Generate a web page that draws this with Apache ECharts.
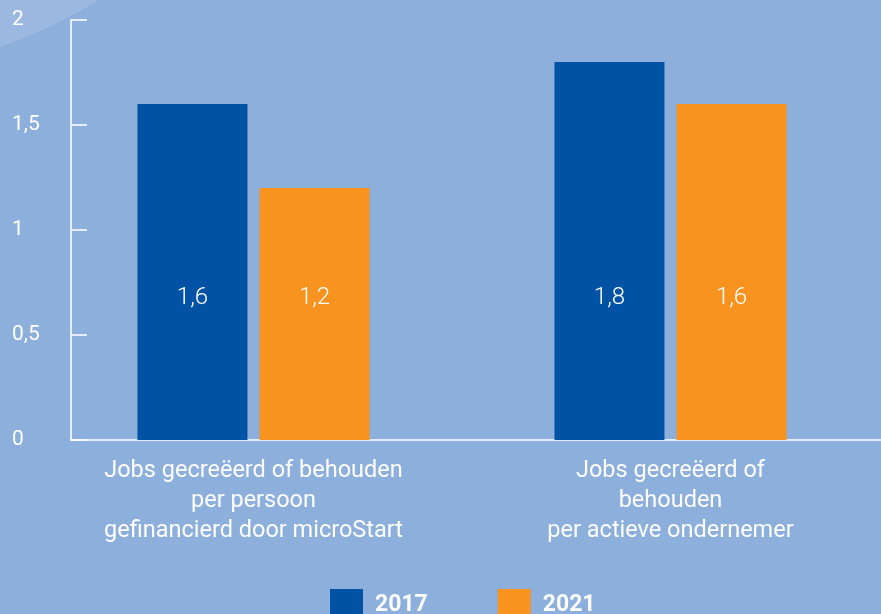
<!DOCTYPE html>
<html><head><meta charset="utf-8">
<script src="https://cdn.jsdelivr.net/npm/echarts@6/dist/echarts.min.js"></script>
<style>html,body{margin:0;padding:0;background:#8DAFDC;}#c{width:881px;height:614px;}</style>
</head><body><div id="c"></div>
<script>
const categories = ['Jobs gecreëerd of behouden\nper persoon\ngefinancierd door microStart', 'Jobs gecreëerd of\nbehouden\nper actieve ondernemer'];
const series2017 = [1.6, 1.8];
const series2021 = [1.2, 1.6];
const seriesNames = ['2017', '2021'];
const yTicks = [0, 0.5, 1, 1.5, 2];

const fmt = v => String(v).replace('.', ',');
const chart = echarts.init(document.getElementById('c'));
const font = 'Roboto, "Open Sans", sans-serif';
chart.setOption({
  backgroundColor: '#8DAFDC',
  animation: false,
  graphic: [{
    type: 'circle', shape: { cx: -150, cy: -393, r: 465 },
    style: { fill: 'rgba(255,255,255,0.12)' }, z: -1, silent: true
  }],
  legend: {
    data: seriesNames, left: 325, top: 584, itemWidth: 33, itemHeight: 33, itemGap: 70,
    icon: 'rect',
    textStyle: { color: '#fff', fontSize: 23, fontWeight: 'bold', fontFamily: font, padding: [0, 0, 0, 7] }
  },
  grid: [
    { left: 45, width: 834, top: 20, bottom: 174 },
    { left: 71, right: 0, top: 20, bottom: 174 }
  ],
  xAxis: [
    { type: 'category', gridIndex: 0, data: categories,
      axisLine: { show: false }, axisTick: { show: false },
      axisLabel: { color: '#fff', fontSize: 23.5, lineHeight: 30, margin: 16, fontFamily: font, interval: 0 } },
    { type: 'value', gridIndex: 1, min: 0, max: 1,
      axisLine: { show: true, lineStyle: { color: 'rgba(255,255,255,0.75)', width: 2 } },
      axisTick: { show: false }, axisLabel: { show: false }, splitLine: { show: false } }
  ],
  yAxis: [
    { type: 'value', gridIndex: 0, min: 0, max: 2, interval: 0.5, show: false },
    { type: 'value', gridIndex: 1, min: 0, max: 2, interval: 0.5,
      axisLine: { show: true, lineStyle: { color: '#fff', width: 1.5 } },
      axisTick: { show: true, inside: true, length: 16, lineStyle: { color: '#fff', width: 1.5 } },
      splitLine: { show: false },
      axisLabel: { color: '#fff', fontSize: 21, fontFamily: font, align: 'left', margin: 59,
        formatter: v => yTicks.includes(v) ? fmt(v) : '' } }
  ],
  series: [
    { name: seriesNames[0], type: 'bar', xAxisIndex: 0, yAxisIndex: 0, data: series2017,
      barWidth: 110, barGap: '11%', itemStyle: { color: '#0052A5' },
      label: { show: true, position: 'insideBottom', distance: 130, color: '#fff', fontSize: 24, fontFamily: font, fontWeight: 300,
        formatter: p => fmt(p.value) } },
    { name: seriesNames[1], type: 'bar', xAxisIndex: 0, yAxisIndex: 0, data: series2021,
      barWidth: 110, barGap: '11%', itemStyle: { color: '#F7931E' },
      label: { show: true, position: 'insideBottom', distance: 130, color: '#fff', fontSize: 24, fontFamily: font, fontWeight: 300,
        formatter: p => fmt(p.value) } }
  ]
});
</script></body></html>
